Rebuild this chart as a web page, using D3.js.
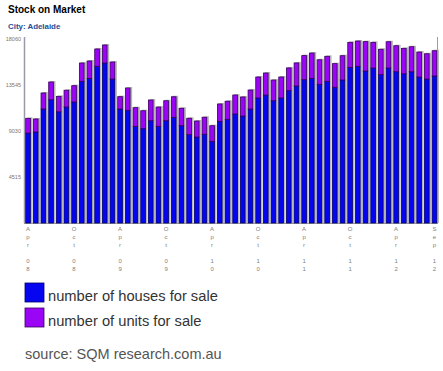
<!DOCTYPE html>
<html><head><meta charset="utf-8">
<script src="https://cdn.jsdelivr.net/npm/d3@7"></script>
<style>
html,body{margin:0;padding:0;background:#fff;}
svg{display:block;font-family:"Liberation Sans",Arial,sans-serif;}
</style></head>
<body>
<svg id="c" width="443" height="371"></svg>
<script>
const months = [
 "Apr 08","May 08","Jun 08","Jul 08","Aug 08","Sep 08","Oct 08","Nov 08","Dec 08",
 "Jan 09","Feb 09","Mar 09","Apr 09","May 09","Jun 09","Jul 09","Aug 09","Sep 09","Oct 09","Nov 09","Dec 09",
 "Jan 10","Feb 10","Mar 10","Apr 10","May 10","Jun 10","Jul 10","Aug 10","Sep 10","Oct 10","Nov 10","Dec 10",
 "Jan 11","Feb 11","Mar 11","Apr 11","May 11","Jun 11","Jul 11","Aug 11","Sep 11","Oct 11","Nov 11","Dec 11",
 "Jan 12","Feb 12","Mar 12","Apr 12","May 12","Jun 12","Jul 12","Aug 12","Sep 12"];
const houses = [8830,8930,11190,12100,10920,11390,11880,13910,14200,15380,15700,14130,
 11190,11060,9490,9260,10040,9490,10040,10370,9550,8670,8440,8710,
 8020,9980,10180,10700,10500,11190,12270,12560,12000,12270,12990,13450,
 14070,14200,13610,13910,13320,14040,15280,15380,14920,15210,14560,15210,
 14850,14650,14850,14330,14130,14430];
const units = [1440,1280,1570,1740,1510,1640,1600,1790,1700,1700,1770,1670,
 1210,2190,1830,1760,2030,1890,1960,2020,1710,1610,1570,1670,
 1530,1700,1770,1860,1870,1860,2060,2160,2030,2060,2230,2260,
 2360,2480,2410,2450,2320,2380,2450,2480,2880,2520,2490,2580,
 2550,2490,2450,2450,2480,2480];
const tickLabels = ["Apr 08","Oct 08","Apr 09","Oct 09","Apr 10","Oct 10","Apr 11","Oct 11","Apr 12","Sep 12"];
const yTicks = [4515,9030,13545,18060];
const seriesNames = ["number of houses for sale","number of units for sale"];

const svg = d3.select("#c");
const x = d3.scaleBand().domain(months).range([24.2,438.3]).paddingInner(0.26).paddingOuter(0.13);
const y = d3.scaleLinear().domain([0,18060]).range([223,39]);

// title
svg.append("text").attr("x",8).attr("y",13).attr("font-size",10).attr("font-weight","bold").attr("fill","#000").text("Stock on Market");
svg.append("text").attr("x",8).attr("y",29).attr("font-size",7.9).attr("font-weight","bold").attr("fill","#1f4e96").text("City: Adelaide");

// frame lines
svg.append("line").attr("x1",24.5).attr("x2",24.5).attr("y1",37).attr("y2",223).attr("stroke","#9a9aa8").attr("stroke-width",1.5);
svg.append("line").attr("x1",437.5).attr("x2",437.5).attr("y1",37).attr("y2",223).attr("stroke","#9a9aa8").attr("stroke-width",1);
svg.append("line").attr("x1",24).attr("x2",438).attr("y1",223.5).attr("y2",223.5).attr("stroke","#9a9a9a").attr("stroke-width",1);

// y axis labels
const ya = svg.append("g").attr("transform","translate(21,0)")
  .call(d3.axisLeft(y).tickValues(yTicks).tickSize(0).tickPadding(0).tickFormat(d=>String(d)));
ya.select(".domain").remove();
ya.selectAll("text").attr("font-size",5.5).attr("fill","#777").attr("font-family","'Liberation Sans',Arial,sans-serif");

// bars
const bw = x.bandwidth();
const g = svg.append("g");
const data = months.map((m,i)=>({m,h:houses[i],u:units[i]}));
g.selectAll("rect.sh").data(data).join("rect").attr("class","sh")
  .attr("x",d=>x(d.m)+1.6).attr("y",d=>y(d.h+d.u)-1)
  .attr("width",bw).attr("height",d=>223-y(d.h+d.u)+1)
  .attr("fill","#b4b4b0");
g.selectAll("rect.h").data(data).join("rect").attr("class","h")
  .attr("x",d=>x(d.m)+0.5).attr("y",d=>y(d.h))
  .attr("width",bw-1).attr("height",d=>223-y(d.h))
  .attr("fill","#0505f0").attr("stroke","#00006a").attr("stroke-width",0.8);
g.selectAll("rect.u").data(data).join("rect").attr("class","u")
  .attr("x",d=>x(d.m)+0.5).attr("y",d=>y(d.h+d.u))
  .attr("width",bw-1).attr("height",d=>y(d.h)-y(d.h+d.u))
  .attr("fill","#9a05f5").attr("stroke","#3a0060").attr("stroke-width",0.8);

// x labels (vertical stacked characters)
const xl = svg.append("g");
tickLabels.forEach(lbl=>{
  const cx = x(lbl)+bw/2;
  lbl.split("").forEach((c,k)=>{
    if (c === " ") return;
    xl.append("text").attr("x",cx).attr("y",231+k*8).attr("font-size",6)
      .attr("fill","#808080").attr("text-anchor","middle").text(c);
  });
});

// legend
const colors = ["#0505f0","#9a05f5"];
const strokes = ["#00006a","#3a0060"];
seriesNames.forEach((s,i)=>{
  const yy = 283+i*25;
  svg.append("rect").attr("x",25).attr("y",yy).attr("width",19).attr("height",19)
    .attr("fill",colors[i]).attr("stroke",strokes[i]).attr("stroke-width",0.8);
  svg.append("text").attr("x",48).attr("y",yy+17.5).attr("font-size",14.7).attr("fill","#333").text(s);
});
svg.append("text").attr("x",25).attr("y",359).attr("font-size",14.5).attr("fill","#555").text("source: SQM research.com.au");
</script>
</body></html>
